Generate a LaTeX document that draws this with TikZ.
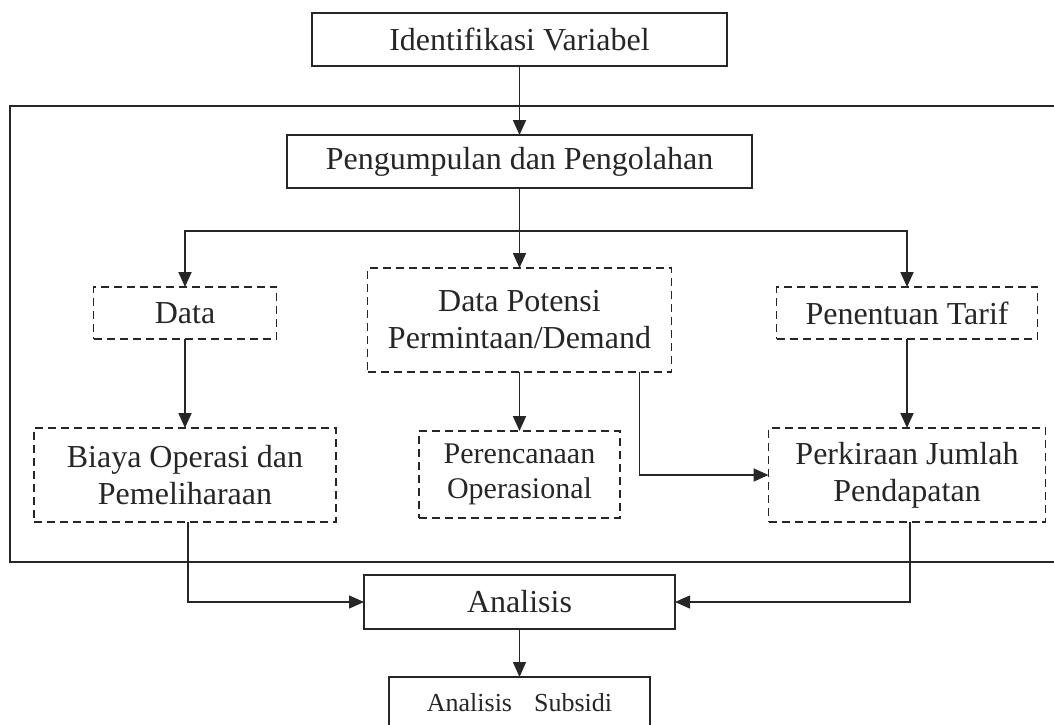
\documentclass[tikz,border=0pt]{standalone}
\usepackage{fontspec}
\setmainfont{Liberation Serif}
\usetikzlibrary{positioning, arrows.meta}
\definecolor{ink}{HTML}{262626}

\begin{document}
\begin{tikzpicture}[x=1pt, y=-1pt]
	\tikzset{
		stage/.style={
				rectangle, draw=ink, line width=1.8pt, text=ink, inner sep=0pt, outer sep=0pt,
				font=\fontsize{32}{37}\selectfont, align=center,
			},
		part/.style={stage, dash pattern=on 8pt off 5pt},
		flow/.style={
				draw=ink, line width=1.8pt, -{Triangle[length=15pt,width=13pt]}, },
		feed/.style={flow, line width=1.3pt},
	}
	\useasboundingbox (0,0) rectangle (1054,724);
	\clip (0,0) rectangle (1054,724);

	% outer frame, open on the right
	\draw[ink, line width=1.8pt] (10,106) rectangle (1080,562);

	\node[stage, minimum width=415pt, minimum height=53pt] (idv) at (519.5,39.5) {Identifikasi Variabel};
	\node[stage, minimum width=465pt, minimum height=53pt, below=69pt of idv] (peng) {Pengumpulan dan Pengolahan};

	\node[part, minimum width=304pt, minimum height=104pt, below=80pt of peng] (potensi) {
		Data Potensi\\
		Permintaan/Demand
	};
	\node[part, minimum width=183pt, minimum height=52pt, left=91pt of potensi, yshift=7pt] (data) {Data};
	\node[part, minimum width=261pt, minimum height=52pt, right=105pt of potensi, yshift=7pt] (tarif) {Penentuan Tarif};

	\node[part, minimum width=302pt, minimum height=94pt, below=89pt of data] (biaya) {
		Biaya Operasi dan\\
		Pemeliharaan
	};
	\node[part, minimum width=201pt, minimum height=87pt, below=59pt of potensi,
		font=\fontsize{30}{35}\selectfont] (rencana) {
		Perencanaan\\
		Operasional
	};
	\node[part, minimum width=277pt, minimum height=94pt, below=89pt of tarif] (kira) {
		Perkiraan Jumlah\\
		Pendapatan
	};

	\node[stage, minimum width=311pt, minimum height=54pt, below=57pt of rencana] (analisis) {Analisis};
	\node[stage, minimum width=261pt, minimum height=52pt, below=48pt of analisis,
		font=\fontsize{26}{30}\selectfont] (subsidi) {Analisis\hspace{22pt}Subsidi};

	\coordinate[below=43pt of peng] (split);

	\draw[flow] (idv) -- (peng);
	\draw[flow] (peng) -- (potensi);
	\draw[flow] (split) -| (data);
	\draw[flow] (split) -| (tarif);

	\draw[flow] (data) -- (biaya);
	\draw[flow] (potensi) -- (rencana);
	\draw[flow] (tarif) -- (kira);
	\draw[flow] ([xshift=120pt]potensi.south) |- (kira);

	\draw[feed] ([xshift=3pt]biaya.south) |- (analisis);
	\draw[feed] ([xshift=3pt]kira.south) |- (analisis);
	\draw[feed] (analisis) -- (subsidi);
\end{tikzpicture}
\end{document}
